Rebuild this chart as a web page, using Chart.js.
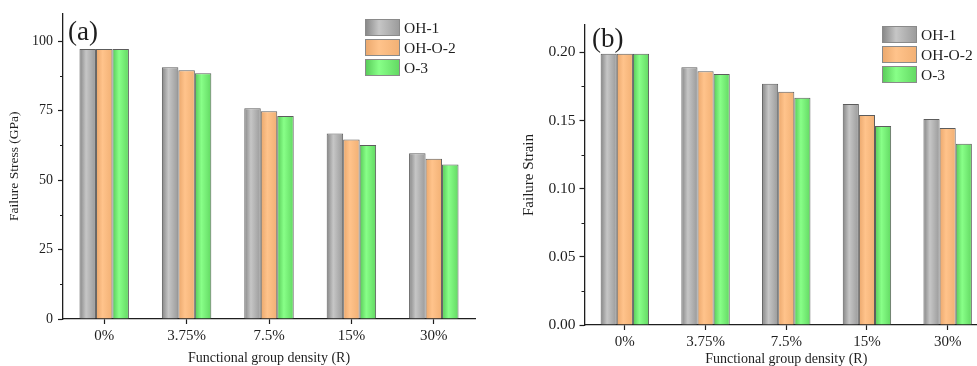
<!DOCTYPE html>
<html>
<head>
<meta charset="utf-8">
<script src="https://cdn.jsdelivr.net/npm/chart.js@4.4.1/dist/chart.umd.min.js"></script>
<style>
  html, body { margin: 0; padding: 0; background: #fff; width: 977px; height: 366px; overflow: hidden; position: relative; }
  canvas { position: absolute; top: 0; }
  #ca { left: 0; }
  #cb { left: 490px; }
</style>
</head>
<body>
<canvas id="ca" width="490" height="366"></canvas>
<canvas id="cb" width="510" height="366"></canvas>
<script>
// ---- data ----
const categories = ['0%', '3.75%', '7.5%', '15%', '30%'];
const seriesNames = ['OH-1', 'OH-O-2', 'O-3'];
const stressOH1  = [97.2, 90.6, 75.9, 66.8, 59.7];
const stressOHO2 = [97.2, 89.5, 74.8, 64.6, 57.7];
const stressO3   = [97.2, 88.5, 73.1, 62.6, 55.6];
const strainOH1  = [0.199, 0.189, 0.177, 0.162, 0.151];
const strainOHO2 = [0.199, 0.186, 0.171, 0.154, 0.1445];
const strainO3   = [0.199, 0.184, 0.1667, 0.146, 0.133];
const stressTicks = [0, 25, 50, 75, 100];
const strainTicks = [0, 0.05, 0.10, 0.15, 0.20];

// ---- styles ----
const SERIF = '"Liberation Serif", "DejaVu Serif", serif';
const INK = '#1e1e1e';
const gradStops = [
  ['#858585', '#c6c6c6', '#9a9a9a'],
  ['#eaa76c', '#ffc38b', '#f2b074'],
  ['#57c957', '#88ff88', '#62d862']
];
const CAT_PCT = 0.6;

function makeGrad(ctx2d, left, w, stops) {
  const g = ctx2d.createLinearGradient(left, 0, left + w, 0);
  g.addColorStop(0, stops[0]);
  g.addColorStop(0.4, stops[1]);
  g.addColorStop(1, stops[2]);
  return g;
}

function barFill(di) {
  return function (c) {
    const chart = c.chart;
    const xs = chart.scales && chart.scales.x;
    if (!chart.chartArea || !xs || c.type !== 'data') return gradStops[di][1];
    const center = xs.getPixelForValue(c.dataIndex);
    const catW = (xs.right - xs.left) / categories.length;
    const bw = catW * CAT_PCT / seriesNames.length;
    const left = center + (di - seriesNames.length / 2) * bw;
    return makeGrad(chart.ctx, left, bw, gradStops[di]);
  };
}

function makeDatasets(arrs) {
  return arrs.map((a, i) => ({
    label: seriesNames[i],
    data: a,
    backgroundColor: barFill(i),
    borderColor: '#5c5c5c',
    borderWidth: 1,
    borderSkipped: 'bottom',
    categoryPercentage: CAT_PCT,
    barPercentage: 1.0
  }));
}

// plugin: panel label, legend, minor ticks
const decorPlugin = {
  id: 'decor',
  afterDraw(chart, args, opts) {
    const ctx = chart.ctx;
    ctx.save();
    // panel label
    ctx.fillStyle = INK;
    ctx.font = '27px ' + SERIF;
    ctx.textBaseline = 'alphabetic';
    ctx.textAlign = 'left';
    ctx.fillText(opts.panel, opts.panelX, opts.panelY);
    // legend
    const bw = 35, bh = 17, gap = 20;
    ctx.font = '15.5px ' + SERIF;
    ctx.textBaseline = 'middle';
    seriesNames.forEach((name, i) => {
      const x = opts.legX, y = opts.legY + i * gap;
      ctx.fillStyle = makeGrad(ctx, x, bw, gradStops[i]);
      ctx.fillRect(x, y, bw, bh);
      ctx.strokeStyle = '#8a8a8a';
      ctx.lineWidth = 1;
      ctx.strokeRect(x + 0.5, y + 0.5, bw - 1, bh - 1);
      ctx.fillStyle = INK;
      ctx.fillText(name, x + bw + 4, y + bh / 2 + 1);
    });
    // minor ticks on y
    const ys = chart.scales.y;
    ctx.strokeStyle = INK;
    ctx.lineWidth = 1;
    const step = opts.step;
    for (let k = 0; k < 20; k++) {
      const v = step / 2 + k * step;
      if (v > ys.max) break;
      const py = Math.round(ys.getPixelForValue(v)) + 0.5;
      ctx.beginPath();
      ctx.moveTo(ys.right - 3, py);
      ctx.lineTo(ys.right, py);
      ctx.stroke();
    }
    ctx.restore();
  }
};

function makeChart(id, arrs, cfg) {
  return new Chart(document.getElementById(id), {
    type: 'bar',
    data: { labels: categories, datasets: makeDatasets(arrs) },
    plugins: [decorPlugin],
    options: {
      responsive: false,
      animation: false,
      devicePixelRatio: 1,
      layout: { padding: { left: 0, right: cfg.padRight, top: cfg.padTop, bottom: 0 } },
      plugins: {
        legend: { display: false },
        tooltip: { enabled: false },
        decor: { panel: cfg.panel, panelX: cfg.panelX, panelY: cfg.panelY, legX: cfg.legX, legY: cfg.legY, step: cfg.step }
      },
      scales: {
        x: {
          offset: true,
          grid: { offset: false, drawOnChartArea: false, drawTicks: true, tickLength: 5, color: INK, tickWidth: 1.2 },
          border: { display: true, color: INK, width: 1.3 },
          ticks: { color: INK, font: { family: SERIF, size: 15 }, padding: 3, maxRotation: 0 },
          title: { display: true, text: 'Functional group density (R)', color: INK, font: { family: SERIF, size: 14, lineHeight: 1 }, padding: { top: 0, bottom: cfg.xTitlePad } },
          afterFit(s) { s.height = cfg.xHeight; }
        },
        y: {
          min: 0, max: cfg.yMax,
          grid: { drawOnChartArea: false, drawTicks: true, tickLength: 5, color: INK, tickWidth: 1.2 },
          border: { display: true, color: INK, width: 1.3 },
          afterBuildTicks(s) { s.ticks = cfg.yTicks.map(v => ({ value: v })); },
          ticks: {
            color: INK, font: { family: SERIF, size: cfg.yTickSize }, padding: cfg.yTickPad,
            callback: cfg.fmt
          },
          title: { display: true, text: cfg.yTitle, color: INK, font: { family: SERIF, size: cfg.yTitleSize, lineHeight: 1 }, padding: { top: cfg.yTitlePad, bottom: 0 } },
          afterFit(s) { s.width = cfg.yWidth; }
        }
      }
    }
  });
}

makeChart('ca', [stressOH1, stressOHO2, stressO3], {
  padRight: 15, padTop: 13, yMax: 110, yTicks: stressTicks, step: 25,
  yTitle: 'Failure Stress (GPa)', yTitleSize: 13.5, yTitlePad: 8, yTickSize: 14, yTickPad: 5,
  yWidth: 63, xHeight: 47, xTitlePad: 1,
  fmt: v => String(v),
  panel: '(a)', panelX: 68, panelY: 40, legX: 365, legY: 19
});

makeChart('cb', [strainOH1, strainOHO2, strainO3], {
  padRight: 12, padTop: 25, yMax: 0.22, yTicks: strainTicks, step: 0.05,
  yTitle: 'Failure Strain', yTitleSize: 15, yTitlePad: 32, yTickSize: 15.5, yTickPad: 4,
  yWidth: 94.5, xHeight: 41, xTitlePad: 0,
  fmt: v => Number(v).toFixed(2),
  panel: '(b)', panelX: 102, panelY: 47, legX: 392, legY: 26
});
</script>
</body>
</html>
